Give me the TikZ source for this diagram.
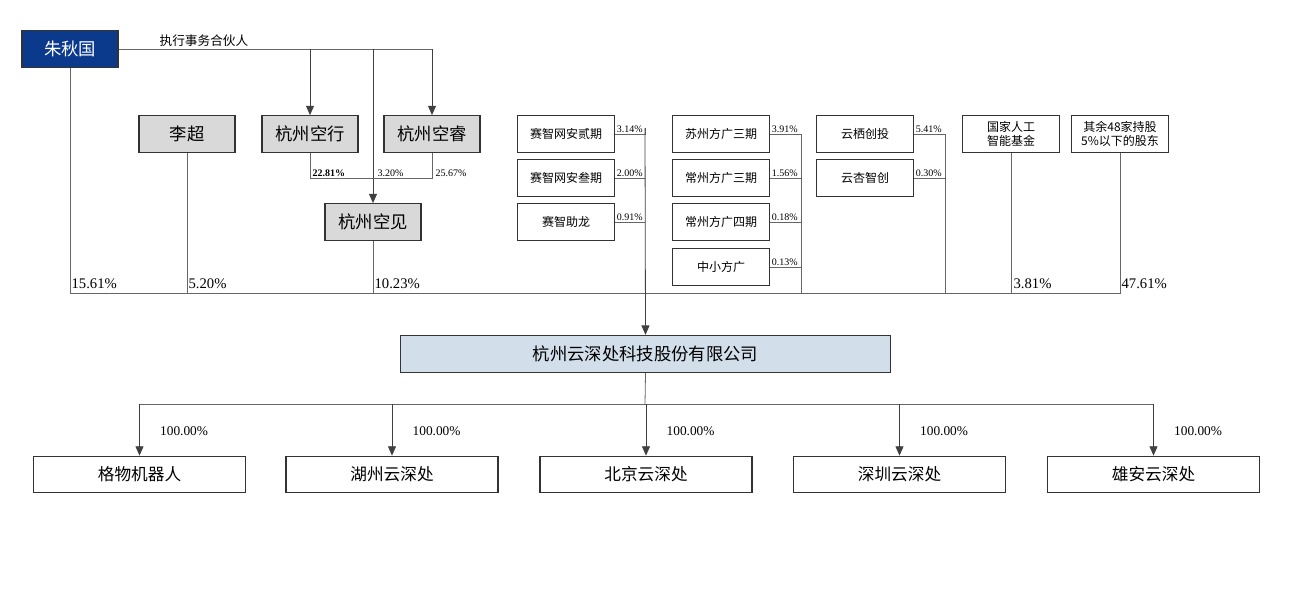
\documentclass[tikz,border=0pt]{standalone}
\usepackage{fontspec}
\setmainfont{Liberation Serif}
\newfontfamily\cjk{Noto Sans CJK SC}
\usetikzlibrary{arrows.meta, positioning}
\definecolor{navy}{HTML}{0B3A8C}
\definecolor{boxgray}{HTML}{D9D9D9}
\definecolor{boxblue}{HTML}{D3DEEB}
\begin{document}
\begin{tikzpicture}[x=0.75pt, y=-0.75pt,
  line/.style={draw=black!60, line width=0.6pt},
  big/.style={draw=black!80, line width=0.8pt, minimum width=72pt, minimum height=27.5pt, inner sep=0pt, font=\cjk\fontsize{13}{15}\selectfont},
  small/.style={draw=black!80, line width=0.8pt, minimum width=73pt, minimum height=27.5pt, inner sep=0pt, align=center, font=\cjk\fontsize{9}{11}\selectfont},
  sub/.style={draw=black!80, line width=0.8pt, minimum width=159pt, minimum height=27.5pt, inner sep=0pt, font=\cjk\fontsize{12.5}{15}\selectfont},
  pct/.style={font=\fontsize{7.5}{9}\selectfont, inner sep=1pt, anchor=south west},
  bigpct/.style={font=\fontsize{11}{13}\selectfont, inner sep=1pt, anchor=south west},
  arr/.style={line, -{Triangle[length=7pt, width=6pt]}, draw=black!75}]
\useasboundingbox (0,0) rectangle (1296,602);
% upper shareholders
\node[big, fill=navy, text=white] (zhu) at (70,49) {朱秋国};
\node[big, fill=boxgray] (li) at (187,134) {李超};
\node[big, fill=boxgray] (kx) at (310,134) {杭州空行};
\node[big, fill=boxgray] (kr) at (432,134) {杭州空睿};
\node[big, fill=boxgray] (kj) at (373,222) {杭州空见};
\node[font=\cjk\fontsize{9.5}{11}\selectfont, anchor=south west, inner sep=1pt] (gp) at (158,48) {执行事务合伙人};
% funds
\node[small] (sz2) at (566,134) {赛智网安贰期};
\node[small] (sz3) at (566,178) {赛智网安叁期};
\node[small] (szl) at (566,222) {赛智助龙};
\node[small] (sfg3) at (721,134) {苏州方广三期};
\node[small] (cfg3) at (721,178) {常州方广三期};
\node[small] (cfg4) at (721,222) {常州方广四期};
\node[small] (zxfg) at (721,267) {中小方广};
\node[small] (yqct) at (865,134) {云栖创投};
\node[small] (yxzc) at (865,178) {云杏智创};
\node[small] (gjrg) at (1011,134) {国家人工\\智能基金};
\node[small] (qy) at (1120,134) {其余48家持股\\5\%以下的股东};
% company and subsidiaries
\node[draw=black!80, line width=0.8pt, fill=boxblue, minimum width=368pt, minimum height=28pt, inner sep=0pt, font=\cjk\fontsize{13}{15}\selectfont] (co) at (645.5,354) {杭州云深处科技股份有限公司};
\node[sub] (gw) at (139.5,474.5) {格物机器人};
\node[sub] (hz) at (392,474.5) {湖州云深处};
\node[sub] (bj) at (646,474.5) {北京云深处};
\node[sub] (sz) at (899.5,474.5) {深圳云深处};
\node[sub] (xa) at (1153.5,474.5) {雄安云深处};
% junction points
\coordinate (bar) at (645,293);
\coordinate (top) at (432,49);
\coordinate (jx) at (373,49);
\coordinate (pk) at (645,128);
\coordinate (fk) at (801,128);
\coordinate (yk) at (945,128);
\coordinate (split) at (645,404);
% executive partner
\draw[line] (zhu.east) -- (top);
\draw[arr] (zhu.east -| kx) -- (kx.north);
\draw[arr] (top) -- (kr.north);
\draw[arr] (jx) -- (kj.north);
\draw[line] (kx.south) |- (kr.south |- 0,178) -- (kr.south);
\node[pct, font=\bfseries\fontsize{7.5}{9}\selectfont] at (311,178) {22.81\%};
\node[pct] at (376,178) {3.20\%};
\node[pct] at (434,178) {25.67\%};
% shareholders to the bar
\draw[line] (zhu.south) |- (qy.south |- bar) -- (qy.south);
\draw[line] (li.south) -- (li.south |- bar);
\draw[line] (kj.south) -- (kj.south |- bar);
\draw[line] (gjrg.south) -- (gjrg.south |- bar);
\node[bigpct] at (70,290) {15.61\%};
\node[bigpct] at (187,290) {5.20\%};
\node[bigpct] at (373,290) {10.23\%};
\node[bigpct] at (1012,290) {3.81\%};
\node[bigpct] at (1120,290) {47.61\%};
% fund groups
\foreach \f/\p in {sz2/3.14, sz3/2.00, szl/0.91}
  {\draw[line] (\f.east) -- (\f.east -| pk); \node[pct] at (\f.east) {\p\%};}
\draw[line] (pk) |- (sz2.east);
\draw[arr] (pk) -- (co.north);
\foreach \f/\p in {sfg3/3.91, cfg3/1.56, cfg4/0.18, zxfg/0.13}
  {\draw[line] (\f.east) -- (\f.east -| fk); \node[pct] at (\f.east) {\p\%};}
\draw[line] (sfg3.east -| fk) -- (fk |- bar);
\foreach \f/\p in {yqct/5.41, yxzc/0.30}
  {\draw[line] (\f.east) -- (\f.east -| yk); \node[pct] at (\f.east) {\p\%};}
\draw[line] (yqct.east -| yk) -- (yk |- bar);
% subsidiaries
\draw[line] (co.south) -- (split);
\draw[line] (gw.north |- split) -- (xa.north |- split);
\foreach \s in {gw, hz, bj, sz, xa}
  {\draw[arr] (\s.north |- split) -- (\s.north);
   \node[font=\fontsize{10}{12}\selectfont, anchor=west] at ([xshift=12pt, yshift=-20pt]\s.north |- split) {100.00\%};}
\end{tikzpicture}
\end{document}
